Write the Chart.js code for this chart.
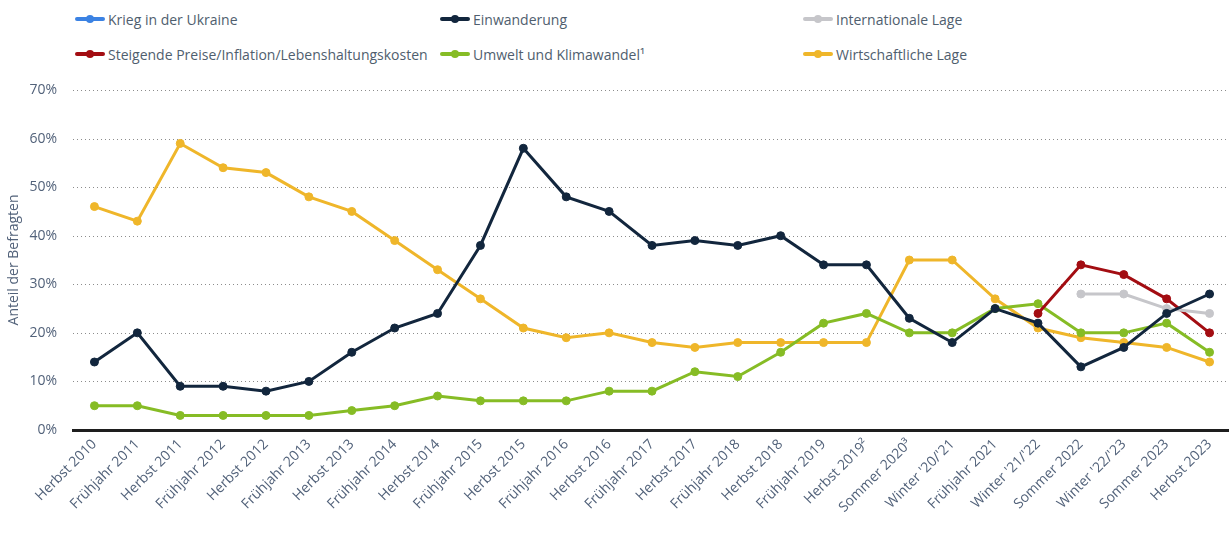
<!DOCTYPE html>
<html lang="de">
<head>
<meta charset="utf-8">
<script src="https://cdn.jsdelivr.net/npm/chart.js@4.4.1/dist/chart.umd.min.js"></script>
<style>
  html, body { margin: 0; padding: 0; background: #fff; overflow: hidden; }
  body { width: 1229px; height: 536px; position: relative; font-family: "Open Sans", sans-serif; }
  #wrap { position: absolute; left: 0; top: 0; width: 1236px; height: 536px; }
  #legend {
    position: absolute; left: 75px; top: 8px;
    display: grid; grid-template-columns: 365px 363px 300px; row-gap: 13px;
    font-size: 14px; color: #4f5e6e;
  }
  .lg-item { display: flex; align-items: center; height: 22px; white-space: nowrap; }
  .lg-mark { position: relative; width: 30px; height: 22px; margin-right: 3px; }
  .lg-mark .ln { position: absolute; left: 0; right: 0; top: 9px; height: 4px; border-radius: 2px; }
  .lg-mark .dt { position: absolute; left: 11px; top: 7px; width: 8px; height: 8px; border-radius: 50%; }
</style>
</head>
<body>
<div id="legend"></div>
<div id="wrap"><canvas id="chart"></canvas></div>
<script>
  // Kategorien (Befragungszeitpunkte)
  const categories = [
    "Herbst 2010", "Frühjahr 2011", "Herbst 2011", "Frühjahr 2012", "Herbst 2012",
    "Frühjahr 2013", "Herbst 2013", "Frühjahr 2014", "Herbst 2014", "Frühjahr 2015",
    "Herbst 2015", "Frühjahr 2016", "Herbst 2016", "Frühjahr 2017", "Herbst 2017",
    "Frühjahr 2018", "Herbst 2018", "Frühjahr 2019", "Herbst 2019²", "Sommer 2020³",
    "Winter '20/'21", "Frühjahr 2021", "Winter '21/'22", "Sommer 2022", "Winter '22/'23",
    "Sommer 2023", "Herbst 2023"
  ];

  // Werte in Prozent
  const kriegUkraine = [
    null, null, null, null, null, null, null, null, null, null, null, null, null, null,
    null, null, null, null, null, null, null, null, null, null, null, null, null
  ];
  const einwanderung = [14, 20, 9, 9, 8, 10, 16, 21, 24, 38, 58, 48, 45, 38, 39, 38, 40, 34, 34, 23, 18, 25, 22, 13, 17, 24, 28];
  const internationaleLage = [
    null, null, null, null, null, null, null, null, null, null, null, null, null, null,
    null, null, null, null, null, null, null, null, null, 28, 28, 25, 24
  ];
  const steigendePreise = [
    null, null, null, null, null, null, null, null, null, null, null, null, null, null,
    null, null, null, null, null, null, null, null, 24, 34, 32, 27, 20
  ];
  const umweltKlima = [5, 5, 3, 3, 3, 3, 4, 5, 7, 6, 6, 6, 8, 8, 12, 11, 16, 22, 24, 20, 20, 25, 26, 20, 20, 22, 16];
  const wirtschaft = [46, 43, 59, 54, 53, 48, 45, 39, 33, 27, 21, 19, 20, 18, 17, 18, 18, 18, 18, 35, 35, 27, 21, 19, 18, 17, 14];

  const yTicks = [0, 10, 20, 30, 40, 50, 60, 70];

  const series = [
    { label: "Krieg in der Ukraine", data: kriegUkraine, color: "#3b82e3" },
    { label: "Einwanderung", data: einwanderung, color: "#12263d" },
    { label: "Internationale Lage", data: internationaleLage, color: "#c6c6ca" },
    { label: "Steigende Preise/Inflation/Lebenshaltungskosten", data: steigendePreise, color: "#a30d12" },
    { label: "Umwelt und Klimawandel¹", data: umweltKlima, color: "#86bc25" },
    { label: "Wirtschaftliche Lage", data: wirtschaft, color: "#efb62a" }
  ];

  const TEXT = "#52627a";
  const FONT = { family: "'Open Sans', sans-serif", size: 14 };

  // gepunktete Rasterlinien (über die y-Skala positioniert)
  const dottedGrid = {
    id: "dottedGrid",
    beforeDatasetsDraw(chart) {
      const { ctx, chartArea, scales } = chart;
      ctx.save();
      ctx.strokeStyle = "#8c8c8c";
      ctx.lineWidth = 1;
      ctx.setLineDash([1, 3]);
      yTicks.forEach((v) => {
        if (v === 0) return;
        const y = Math.round(scales.y.getPixelForValue(v)) + 0.5;
        ctx.beginPath();
        ctx.moveTo(chartArea.left, y);
        ctx.lineTo(chartArea.right, y);
        ctx.stroke();
      });
      ctx.restore();
    }
  };

  const chart = new Chart(document.getElementById("chart"), {
    type: "line",
    data: {
      labels: categories,
      datasets: series.map((s) => ({
        label: s.label,
        data: s.data,
        borderColor: s.color,
        backgroundColor: s.color,
        pointBackgroundColor: s.color,
        pointBorderColor: s.color,
        borderWidth: 3,
        pointRadius: 4,
        pointBorderWidth: 1,
        tension: 0,
        spanGaps: false
      }))
    },
    plugins: [dottedGrid],
    options: {
      responsive: true,
      maintainAspectRatio: false,
      animation: false,
      layout: { padding: { top: 90, left: 0, right: 0, bottom: 0 } },
      plugins: { legend: { display: false }, tooltip: { enabled: false } },
      scales: {
        x: {
          offset: true,
          grid: { display: false, drawTicks: false },
          border: { display: true, color: "#1e1e1e", width: 3 },
          ticks: {
            color: TEXT, font: FONT, padding: 6,
            autoSkip: false, minRotation: 45, maxRotation: 45
          },
          afterFit: (scale) => { scale.height = 106; }
        },
        y: {
          min: 0, max: 70,
          afterBuildTicks: (scale) => { scale.ticks = yTicks.map((v) => ({ value: v })); },
          grid: { display: false, drawTicks: false },
          border: { display: false },
          ticks: {
            color: TEXT, font: FONT, padding: 16,
            callback: (v) => v + "%"
          },
          title: {
            display: true, text: "Anteil der Befragten",
            color: TEXT, font: FONT, padding: { top: 6, bottom: 0 }
          },
          afterFit: (scale) => { scale.width = 73; }
        }
      }
    }
  });

  // HTML-Legende im Raster
  const legendEl = document.getElementById("legend");
  chart.data.datasets.forEach((ds) => {
    const item = document.createElement("div");
    item.className = "lg-item";
    item.innerHTML =
      '<span class="lg-mark"><span class="ln" style="background:' + ds.borderColor + '"></span>' +
      '<span class="dt" style="background:' + ds.borderColor + '"></span></span>' +
      '<span class="lg-txt"></span>';
    item.querySelector(".lg-txt").textContent = ds.label;
    legendEl.appendChild(item);
  });
</script>
</body>
</html>
